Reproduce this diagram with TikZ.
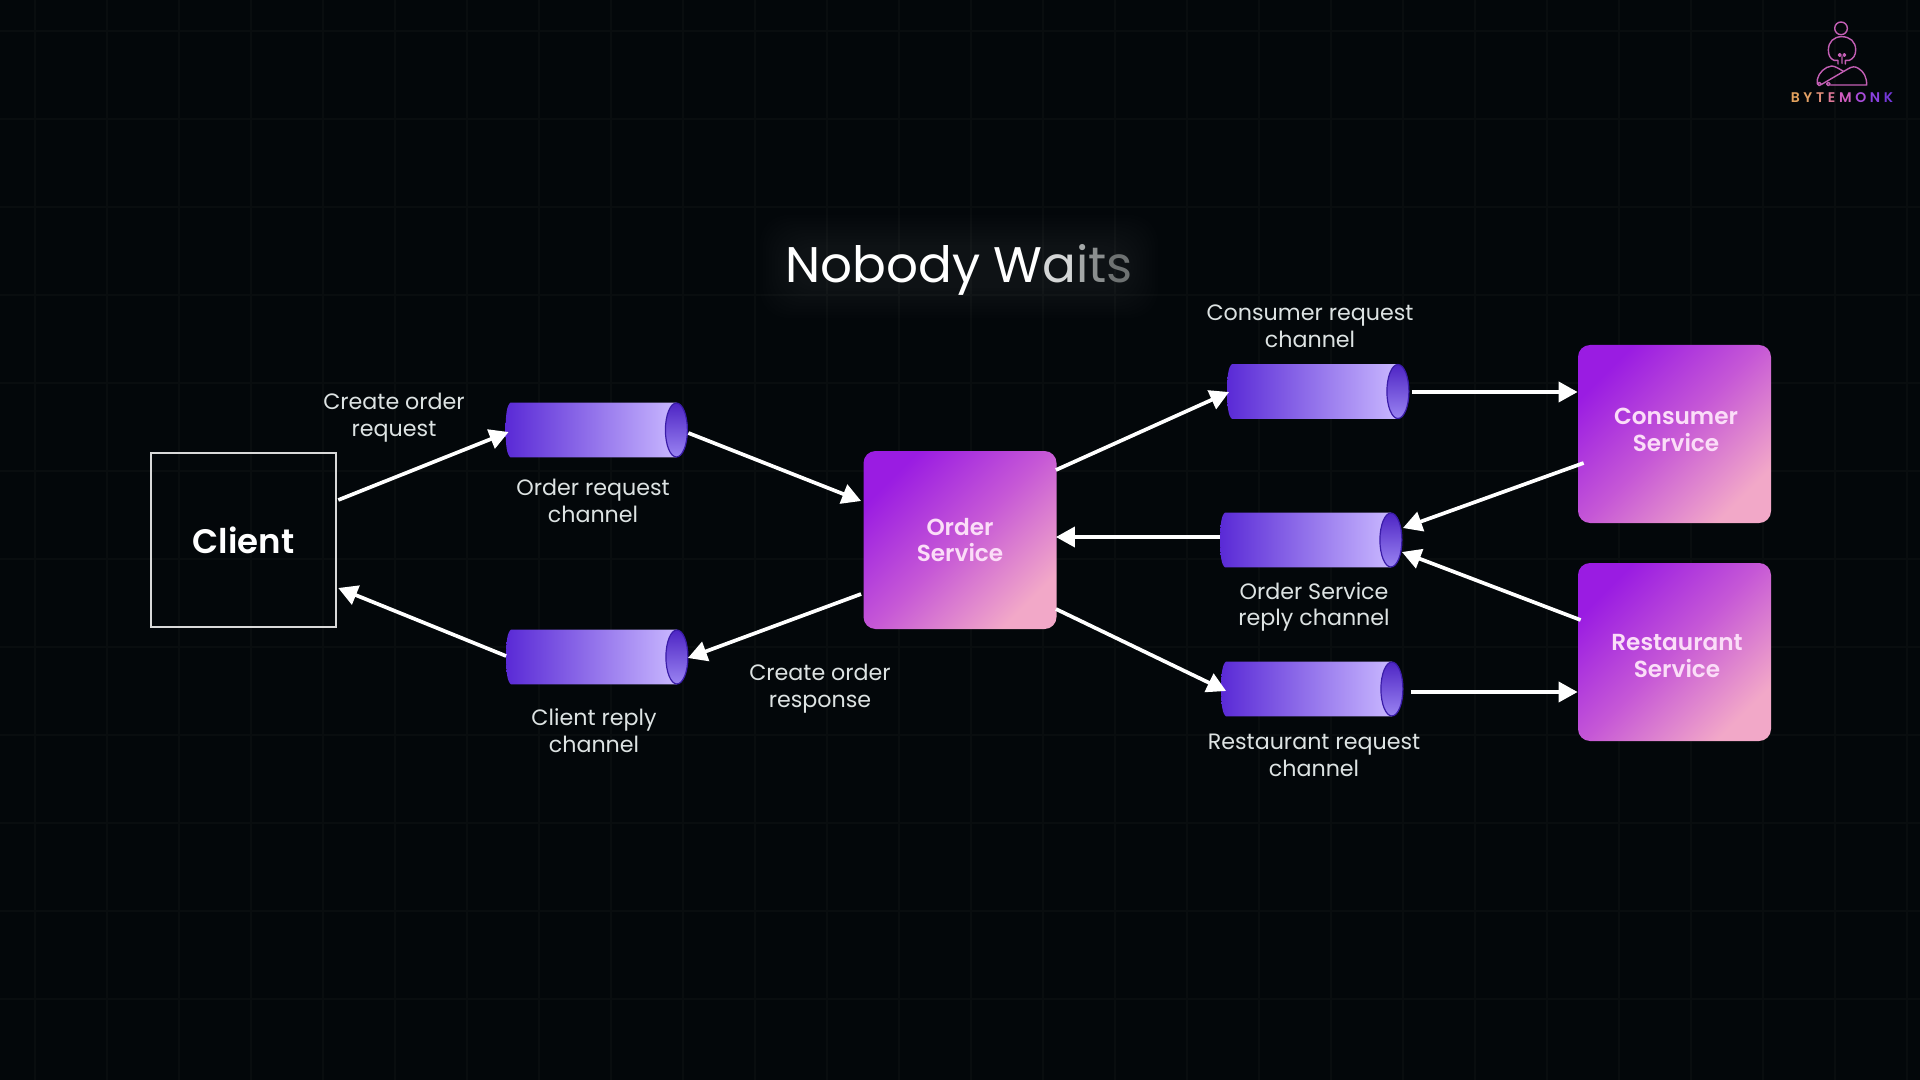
\documentclass[tikz,border=0pt]{standalone}
\usepackage{fontspec}
\setmainfont{Poppins}
\newfontfamily\semib{Poppins SemiBold}
\usetikzlibrary{arrows.meta,calc}
\definecolor{bgcol}{HTML}{03070A}
\definecolor{gridcol}{HTML}{090D0F}
\definecolor{labelcol}{HTML}{DDE3E3}
\definecolor{chanL}{HTML}{5A2AD6}
\definecolor{chanR}{HTML}{C9B8FF}
\definecolor{capT}{HTML}{4E25C4}
\definecolor{capB}{HTML}{9A84F2}
\definecolor{capline}{HTML}{3A1CA8}
\definecolor{svcA}{HTML}{9A1CE2}
\definecolor{svcM}{HTML}{C658D6}
\definecolor{svcB}{HTML}{F2A8C8}
\definecolor{svcText}{HTML}{FBDDF8}
\definecolor{logocol}{HTML}{C45FB5}
\tikzset{
  arr/.style={draw=white,line width=1.85pt,-{Triangle[length=9.5pt,width=10pt]}},
  label/.style={text=labelcol,align=center,font=\fontsize{11.1}{13.4}\selectfont},
  svc/.style={rounded corners=6pt,minimum width=96.5pt,minimum height=89pt,inner sep=0pt,
    top color=svcA,bottom color=svcB,middle color=svcM,shading angle=45},
  svctext/.style={text=svcText,align=center,font=\fontsize{11.6}{13.4}\semib},
  chan/.style={minimum width=90.5pt,minimum height=27pt,inner sep=0pt},
  gridline/.style={draw=gridcol,line width=0.6pt},
  logoline/.style={draw=logocol,line width=0.7pt,line join=round,line cap=round},
}
\newcommand{\channel}[3]{%
  \node[chan] (#1) at (#2,#3) {};
  \shade[left color=chanL,right color=chanR]
    ($(#1.north west)+(5,0)$) -- ($(#1.north east)+(-11,0)$) -- ($(#1.south east)+(-11,0)$)
    -- ($(#1.south west)+(5,0)$)
    .. controls ($(#1.west)+(1,25)$) and ($(#1.west)+(0,14)$) .. (#1.west)
    .. controls ($(#1.west)+(0,-14)$) and ($(#1.west)+(1,-25)$) .. cycle;
  \shade[top color=capT,bottom color=capB,draw=capline,line width=0.6pt]
    ($(#1.east)+(-11,0)$) ellipse [x radius=11,y radius=27];
}
\newcommand{\lk}{\kern1.85pt}
\begin{document}
\begin{tikzpicture}[x=0.5pt,y=-0.5pt]
\useasboundingbox (0,0) rectangle (1920,1080);
\fill[bgcol] (0,0) rectangle (1920,1080);
% background grid
\foreach \gx in {35,107,...,1920} {\draw[gridline] (\gx,0) -- (\gx,1080);}
\foreach \gy in {31,119,...,1080} {\draw[gridline] (0,\gy) -- (1920,\gy);}
% title haze
\foreach \hm in {30,27,...,0} {
  \fill[white,opacity=0.009,rounded corners=14pt] ({790-\hm},{245-\hm}) rectangle ({1128+\hm},{288+\hm});
}
\node[text=white,font=\fontsize{25}{30}\selectfont] (title) at (959,270)
  {Nobody W\textcolor[HTML]{D4D6D6}{a}\textcolor[HTML]{A4A8A8}{i}\textcolor[HTML]{8A8E8E}{t}\textcolor[HTML]{6E7272}{s}};
% nodes
\node[draw=white!85!black,line width=1.25pt,minimum width=92.5pt,minimum height=87pt,inner sep=0pt,
  text=white,font=\fontsize{17}{20}\semib] (client) at (243.5,540) {Client};
\node[svc] (order) at (960,540) {};
\node[svc] (consumer) at (1674.5,434) {};
\node[svc] (restaurant) at (1674.5,652) {};
\node[svctext] (ordertxt) at (960,540) {Order\\Service};
\node[svctext] (consumertxt) at (1676,430) {Consumer\\Service};
\node[svctext] (restauranttxt) at (1677,656) {Restaurant\\Service};
\channel{oreq}{596.5}{430}
\channel{creply}{597}{657}
\channel{consreq}{1318}{391.5}
\channel{ordreply}{1311}{540}
\channel{restreq}{1312}{689}
% labels
\node[label] (l1) at (394,418) {Create order\\request};
\node[label] (l2) at (593,501) {Order request\\channel};
\node[label] (l3) at (594,731) {Client reply\\channel};
\node[label] (l4) at (820,689) {Create order\\response};
\node[label] (l5) at (1310,326) {Consumer request\\channel};
\node[label] (l6) at (1314,607) {Order Service\\reply channel};
\node[label] (l7) at (1314,755) {Restaurant request\\channel};
% connectors
\draw[arr] ($(client.east)+(1,-40)$) -- ($(oreq.west)+(3,2)$);
\draw[arr] ($(oreq.east)+(1,3)$) -- ($(order.west)+(-2,-39)$);
\draw[arr] ($(order.east)+(-1,-70)$) -- ($(consreq.west)+(2,0.5)$);
\draw[arr] ($(consreq.east)+(3,0.5)$) -- ($(consumer.west)+(0,-42)$);
\draw[arr] ($(consumer.west)+(6,29)$) -- ($(ordreply.east)+(1,-12)$);
\draw[arr] ($(restaurant.west)+(3,-32)$) -- ($(ordreply.east)+(0,12)$);
\draw[arr] ($(ordreply.west)+(0,-3)$) -- ($(order.east)+(-1,-3)$);
\draw[arr] ($(order.east)+(-1,69)$) -- ($(restreq.west)+(5,2)$);
\draw[arr] ($(restreq.east)+(8,3)$) -- ($(restaurant.west)+(0,40)$);
\draw[arr] ($(order.west)+(-2,54)$) -- ($(creply.east)+(0,1)$);
\draw[arr] ($(creply.west)+(0,-1)$) -- ($(client.east)+(1,48)$);
% logo
\begin{scope}[shift={(1760,0)},x=0.1667pt,y=-0.1667pt]
  \draw[logoline] (243,85) circle [radius=19];
  \draw[logoline] (234,192) -- (234,181) -- (222,181) .. controls (210,176) and (205,165) .. (205,150)
    .. controls (205,125) and (222,110) .. (245,110) .. controls (270,110) and (287,125) .. (287,150)
    .. controls (287,165) and (280,176) .. (268,181) -- (256,181) -- (256,192);
  \draw[logoline] (239,165) circle [radius=4] (253,165) circle [radius=4] (246,170) -- (246,190);
  \draw[logoline] (172,252) -- (172,238) .. controls (176,218) and (195,200) .. (215,198)
    .. controls (225,198) and (240,208) .. (250,214);
  \draw[logoline] (183,254) -- (265,206) .. controls (275,200) and (285,198) .. (295,205)
    .. controls (312,215) and (320,232) .. (320,255) -- (212,255);
  \draw[logoline] (178,252) circle [radius=5] (205,252) circle [radius=5];
\end{scope}
\node[font=\fontsize{7}{8}\semib] (logotext) at (1842,98)
  {\textcolor[HTML]{E3A25E}{B}\lk\textcolor[HTML]{E2A066}{Y}\lk\textcolor[HTML]{E08E78}{T}\lk\textcolor[HTML]{DE7898}{E}\lk\textcolor[HTML]{D05CC0}{M}\lk\textcolor[HTML]{A84CD8}{O}\lk\textcolor[HTML]{8A42E0}{N}\lk\textcolor[HTML]{7438DA}{K}};
\end{tikzpicture}
\end{document}
